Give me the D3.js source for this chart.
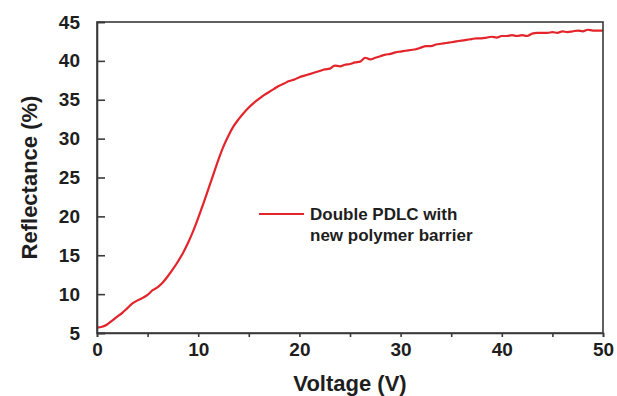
<!DOCTYPE html>
<html>
<head>
<meta charset="utf-8">
<script src="https://cdn.jsdelivr.net/npm/d3@7"></script>
<style>
  html, body { margin: 0; padding: 0; background: #fff; }
  svg { display: block; }
  text { font-family: "Liberation Sans", Arial, sans-serif; font-weight: bold; }
</style>
</head>
<body>
<svg id="chart" width="617" height="396"></svg>
<script>
// ---- data ----
const voltage = [0,0.5,1,1.5,2,2.5,3,3.5,4,4.5,5,5.5,6,6.5,7,7.5,8,8.5,9,9.5,
  10,10.5,11,11.5,12,12.5,13,13.5,14,14.5,15,15.5,16,16.5,17,17.5,18,18.5,19,19.5,
  20,20.5,21,21.5,22,22.5,23,23.5,24,24.5,25,25.5,26,26.5,27,27.5,28,28.5,29,29.5,
  30,30.5,31,31.5,32,32.5,33,33.5,34,34.5,35,35.5,36,36.5,37,37.5,38,38.5,39,39.5,
  40,40.5,41,41.5,42,42.5,43,43.5,44,44.5,45,45.5,46,46.5,47,47.5,48,48.5,49,49.5,50];
const reflectance = [5.7,5.8,6.1,6.6,7.1,7.6,8.2,8.8,9.2,9.5,
  9.9,10.5,10.9,11.5,12.3,13.2,14.2,15.3,16.6,18.1,
  19.8,21.6,23.5,25.4,27.3,29.0,30.4,31.6,32.5,33.3,
  34.0,34.6,35.1,35.6,36.0,36.4,36.8,37.1,37.4,37.6,
  37.9,38.1,38.3,38.5,38.7,38.9,39.0,39.4,39.3,39.5,
  39.6,39.8,39.9,40.4,40.2,40.4,40.6,40.8,40.9,41.1,
  41.2,41.3,41.4,41.5,41.7,41.9,41.9,42.1,42.2,42.3,
  42.4,42.5,42.6,42.7,42.8,42.9,42.9,43.0,43.1,43.0,
  43.2,43.2,43.3,43.2,43.3,43.2,43.5,43.6,43.6,43.6,
  43.7,43.6,43.8,43.7,43.8,43.9,43.8,44.0,43.9,43.9,43.9];
const xTicks = [0,10,20,30,40,50];
const xMinorTicks = [5,15,25,35,45];
const yTicks = [5,10,15,20,25,30,35,40,45];
const seriesName = ["Double PDLC with", "new polymer barrier"];
const xTitle = "Voltage (V)";
const yTitle = "Reflectance (%)";

// ---- layout ----
const L = 97, R = 603, T = 22, B = 333;
const svg = d3.select("#chart");
const x = d3.scaleLinear().domain([0, 50]).range([L, R]);
const y = d3.scaleLinear().domain([5, 45]).range([B, T]);
const axisColor = "#3a3a3a";
const textColor = "#1e1e1e";

// curve
const line = d3.line().x((d, i) => x(voltage[i])).y(d => y(d)).curve(d3.curveMonotoneX);
svg.append("path")
  .datum(reflectance)
  .attr("d", line)
  .attr("fill", "none")
  .attr("stroke", "#e3242b")
  .attr("stroke-width", 2.2)
  .attr("stroke-linejoin", "round");

// x axis
const xAxis = svg.append("g").attr("transform", `translate(0,${B})`)
  .call(d3.axisBottom(x).tickValues(xTicks).tickSize(4).tickPadding(6).tickFormat(d3.format("d")));
svg.append("g").attr("transform", `translate(0,${B})`)
  .call(d3.axisBottom(x).tickValues(xMinorTicks).tickSize(4).tickFormat(""))
  .call(g => g.select(".domain").remove());

// y axis (ticks inward)
const yAxis = svg.append("g").attr("transform", `translate(${L},0)`)
  .call(d3.axisLeft(y).tickValues(yTicks).tickSize(-8).tickPadding(17).tickFormat(d3.format("d")));

[xAxis, yAxis].forEach(g => {
  g.selectAll("text").attr("fill", textColor).style("font-size", "19px").style("font-family", '"Liberation Sans", Arial, sans-serif').style("font-weight", "bold");
  g.selectAll("line").attr("stroke", axisColor).attr("stroke-width", 1.6);
  g.select(".domain").attr("stroke", axisColor).attr("stroke-width", 1.6);
});
svg.selectAll(".tick line").attr("stroke", axisColor).attr("stroke-width", 1.6);

// frame
svg.append("rect")
  .attr("x", L).attr("y", T).attr("width", R - L).attr("height", B - T)
  .attr("fill", "none").attr("stroke", axisColor).attr("stroke-width", 1.6);

// axis titles
svg.append("text")
  .attr("x", (L + R) / 2).attr("y", 391)
  .attr("text-anchor", "middle").attr("fill", textColor)
  .style("font-size", "22px").text(xTitle);
svg.append("text")
  .attr("transform", `translate(37,${(T + B) / 2}) rotate(-90)`)
  .attr("text-anchor", "middle").attr("fill", textColor)
  .style("font-size", "22px").text(yTitle);

// legend
const lg = svg.append("g");
lg.append("line").attr("x1", 259).attr("x2", 304).attr("y1", 214).attr("y2", 214)
  .attr("stroke", "#e3242b").attr("stroke-width", 2.2);
lg.selectAll("text.leg").data(seriesName).enter().append("text")
  .attr("class", "leg")
  .attr("x", 310).attr("y", (d, i) => 220 + i * 21)
  .attr("fill", textColor).style("font-size", "17px").text(d => d);
</script>
</body>
</html>
